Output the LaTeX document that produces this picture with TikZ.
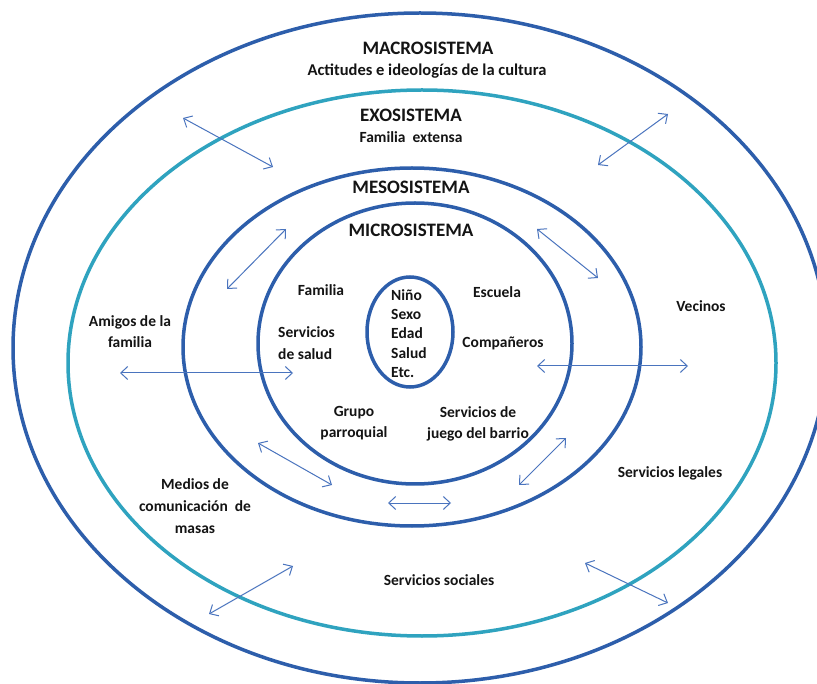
\documentclass[tikz,border=0pt]{standalone}
\usepackage{fontspec}
\setmainfont{Carlito}
\usetikzlibrary{arrows.meta}
\definecolor{ringblue}{HTML}{2D5EAB}
\definecolor{ringteal}{HTML}{2FA3BF}
\definecolor{arrowblue}{HTML}{4A74BE}
\definecolor{txt}{HTML}{141414}
\begin{document}
\begin{tikzpicture}[x=1pt,y=-1pt,
  ring/.style={line width=3.5pt},
  link/.style={arrowblue, line width=1pt,
    {Straight Barb[length=7pt,width=13pt]}-{Straight Barb[length=7pt,width=13pt]}},
  lbl/.style={font=\fontsize{15.5}{21}\selectfont\bfseries, text=txt, align=center, inner sep=0pt},
  head/.style={font=\fontsize{19}{22}\selectfont\bfseries, text=txt, inner sep=0pt}]
\useasboundingbox (0,0) rectangle (817,684);
\clip (0,0) rectangle (817,684);
\fill[white] (0,0) rectangle (817,684);
% rings
\draw[ring, ringblue] (420,348) ellipse [x radius=407, y radius=335];
\draw[ring, ringteal] (422,363) ellipse [x radius=354, y radius=273];
\draw[ring, ringblue] (412,347) ellipse [x radius=229, y radius=179];
\draw[ring, ringblue] (415,343.5) ellipse [x radius=157, y radius=140.5];
\draw[ring, ringblue] (410,332) ellipse [x radius=43, y radius=55];
% headings
\node[head] (macro) at (428,48) {MACROSISTEMA};
\node[lbl, font=\fontsize{16.5}{20}\selectfont\bfseries] (cult) at (427,71) {Actitudes e ideologías de la cultura};
\node[head] (exo) at (411,115) {EXOSISTEMA};
\node[lbl] (ext) at (411,137) {Familia\ \ extensa};
\node[head] (meso) at (411,187) {MESOSISTEMA};
\node[head] (micro) at (411,230) {MICROSISTEMA};
% micro labels
\node[lbl] (fam) at (321,290) {Familia};
\node[lbl] (esc) at (497,292) {Escuela};
\node[lbl, align=left, anchor=west, font=\fontsize{15.5}{22}\selectfont\bfseries] (salud) at (278,343) {Servicios\\de salud};
\node[lbl] (comp) at (503,343) {Compañeros};
\node[lbl, align=left, anchor=west, font=\fontsize{15.5}{19.3}\selectfont\bfseries] (nino) at (391,333.5) {Niño\\Sexo\\Edad\\Salud\\Etc.};
\node[lbl] (grupo) at (354,423.5) {Grupo\\parroquial};
\node[lbl] (juego) at (478,424) {Servicios de\\juego del barrio};
% exo labels
\node[lbl] (amigos) at (130,331.5) {Amigos de la\\familia};
\node[lbl] (vec) at (701,306) {Vecinos};
\node[lbl] (legal) at (670,473) {Servicios legales};
\node[lbl, font=\fontsize{15.5}{22}\selectfont\bfseries] (medios) at (195,506) {Medios de\\comunicación\ \ de\\masas};
\node[lbl] (social) at (439,580) {Servicios sociales};
% arrow end points
\coordinate (a1) at (183,118); \coordinate (b1) at (273,167);
\coordinate (a2) at (668,114); \coordinate (b2) at (598,165);
\coordinate (a3) at (286,229); \coordinate (b3) at (227,289);
\coordinate (a4) at (537,229); \coordinate (b4) at (598,278);
\coordinate (a5) at (120,373); \coordinate (b5) at (293,373);
\coordinate (a6) at (537,366); \coordinate (b6) at (688,366);
\coordinate (a7) at (258,443); \coordinate (b7) at (332,485);
\coordinate (a8) at (566,438); \coordinate (b8) at (519,485);
\coordinate (a9) at (388,503); \coordinate (b9) at (451,503);
\coordinate (a10) at (293,566); \coordinate (b10) at (209,614);
\coordinate (a11) at (585,563); \coordinate (b11) at (668,603);
\foreach \i in {1,...,11} \draw[link] (a\i) -- (b\i);
\end{tikzpicture}
\end{document}
